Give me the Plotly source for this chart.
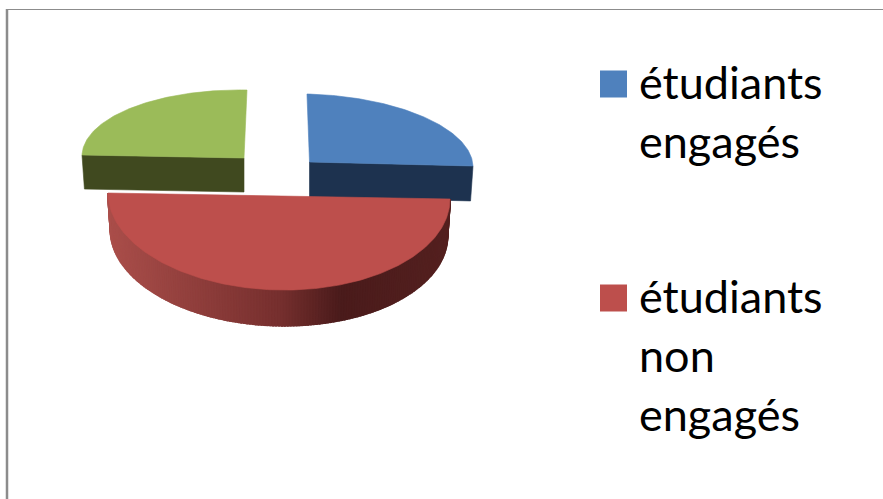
import math
import plotly.graph_objects as go

# Data
series_names = ["étudiants engagés", "étudiants non engagés", "autres"]
series_values = [25, 50, 25]
legend_lines = [["étudiants", "engagés"], ["étudiants", "non", "engagés"]]

# Styles / geometry of the projected pie (pixels)
W, H = 883, 499
top_colors = ["#4f81bd", "#bd4f4c", "#9bbb59"]
side_colors = ["#1d324f", None, "#40491f"]
geom = [
    dict(cx=309.5, cy=162, rx=163.5, ry=68, tilt=0.0245, skew=0.037, depth=35),
    dict(cx=279, cy=196, rx=171, ry=94, tilt=0.0175, skew=0.0, depth=37),
    dict(cx=244, cy=158, rx=162, ry=68, tilt=0.0185, skew=-0.044, depth=34),
]
STEP = 1.0  # degrees


def project(g, theta, drop=0.0, scale=1.0):
    dx = g["rx"] * scale * math.sin(theta)
    dy = -g["ry"] * scale * math.cos(theta)
    x = g["cx"] + dx + g["skew"] * dy
    y = g["cy"] + dy + g["tilt"] * dx + drop
    return x, y


def lerp_color(t):
    stops = [(0.0, (170, 78, 74)), (0.5, (118, 47, 46)), (0.68, (74, 27, 27)), (1.0, (84, 32, 31))]
    for (a, ca), (b, cb) in zip(stops, stops[1:]):
        if t <= b:
            k = (t - a) / (b - a)
            return "rgb(%d,%d,%d)" % tuple(round(u + (v - u) * k) for u, v in zip(ca, cb))
    return "rgb(84,32,31)"


def poly(fig, xs, ys, color, lw=0.6):
    fig.add_trace(go.Scatter(
        x=xs + xs[:1], y=ys + ys[:1], mode="lines", fill="toself", fillcolor=color,
        line=dict(color=color, width=lw), hoverinfo="skip", showlegend=False))


fig = go.Figure()

total = sum(series_values)
spans = []
acc = 0
for v in series_values:
    spans.append((acc / total * 2 * math.pi, (acc + v) / total * 2 * math.pi))
    acc += v

# Back wedges (blue, green), then the red one in front
for i in [0, 2, 1]:
    g = geom[i]
    a0, a1 = spans[i]
    n = max(2, int(math.degrees(a1 - a0) / STEP))
    angles = [a0 + (a1 - a0) * k / n for k in range(n + 1)]

    if side_colors[i]:
        # flat cut face seen from the front
        edge = a1 if i == 0 else a0
        ax, ay = g["cx"], g["cy"]
        ex, ey = project(g, edge)
        ex2, ey2 = project(g, edge, g["depth"], 0.985)
        poly(fig, [ax, ex, ex2, ax], [ay, ey, ey2, ay + g["depth"]], side_colors[i])
    else:
        # curved rim, shaded from left to right
        for a, b in zip(angles[:-1], angles[1:]):
            p1 = project(g, a)
            p2 = project(g, b)
            p3 = project(g, b, g["depth"], 0.985)
            p4 = project(g, a, g["depth"], 0.985)
            t = ((p1[0] + p2[0]) / 2 - (g["cx"] - g["rx"])) / (2 * g["rx"])
            poly(fig, [p1[0], p2[0], p3[0], p4[0]], [p1[1], p2[1], p3[1], p4[1]], lerp_color(t), lw=2)

    pts = [project(g, t) for t in angles]
    xs = [g["cx"]] + [p[0] for p in pts]
    ys = [g["cy"]] + [p[1] for p in pts]
    if i == 1:
        xs, ys = [p[0] for p in pts], [p[1] for p in pts]
    poly(fig, xs, ys, top_colors[i])

# Legend
legend_y = [84, 298]
line_gap = 59
for k, lines in enumerate(legend_lines):
    fig.add_trace(go.Scatter(
        x=[613.5], y=[legend_y[k]], mode="markers", showlegend=False, hoverinfo="skip",
        marker=dict(symbol="square", size=27, color=top_colors[k], line=dict(width=0))))
    for j, txt in enumerate(lines):
        fig.add_annotation(x=640, y=legend_y[k] + j * line_gap, text=txt, showarrow=False,
                           xanchor="left", yanchor="middle", xshift=-3, yshift=2,
                           font=dict(family="Lato", size=45, color="#000000"))

# Frame
frame_color = "#8c8c8c"
fig.add_shape(type="line", x0=7, x1=7, y0=9, y1=H, line=dict(color=frame_color, width=2.5))
fig.add_shape(type="line", x0=6, x1=W, y0=9.5, y1=9.5, line=dict(color=frame_color, width=1.2))

fig.update_layout(
    width=W, height=H, autosize=False, margin=dict(l=0, r=0, t=0, b=0),
    paper_bgcolor="white", plot_bgcolor="white", showlegend=False,
    xaxis=dict(range=[0, W], visible=False, fixedrange=True),
    yaxis=dict(range=[H, 0], visible=False, fixedrange=True),
)
fig.write_html("out.html", config={"displayModeBar": False},
               post_script="document.body.style.margin='0';document.documentElement.style.overflow='hidden';")
